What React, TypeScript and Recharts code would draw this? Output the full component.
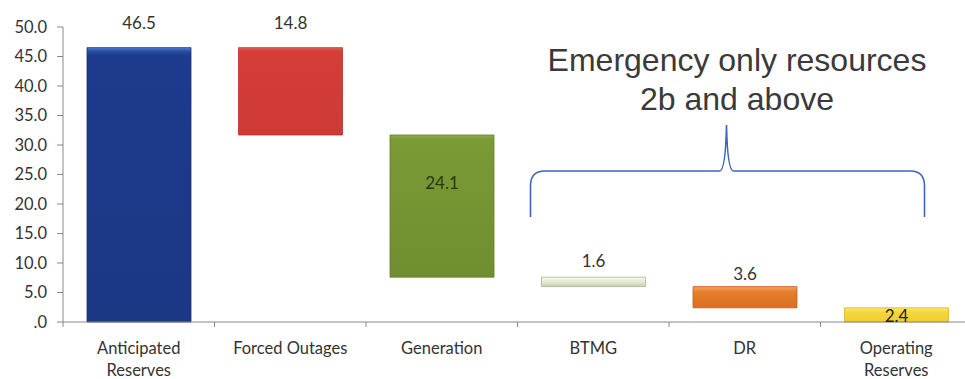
import { BarChart, Bar, XAxis, YAxis, Cell, LabelList } from "recharts"

const categories = ["Anticipated Reserves", "Forced Outages", "Generation", "BTMG", "DR", "Operating Reserves"]
const values = [46.5, 14.8, 24.1, 1.6, 3.6, 2.4]
const bases = [0, 31.7, 7.6, 6.0, 2.4, 0]
const yTicks = [0, 5, 10, 15, 20, 25, 30, 35, 40, 45, 50]

const fills = ["url(#gBlue)", "url(#gRed)", "url(#gGreen)", "url(#gPale)", "url(#gOrange)", "url(#gYellow)"]
const strokes = ["#1a2f70", "#b8302c", "#5f7d28", "#a9b39a", "#c0601e", "#d8b428"]
// label offset from bar top (center of text), tuned per bar
const labelDy = [-25, -25, 48, -16, -13, 8]
const labelColors = ["#333", "#333", "#2a3810", "#333", "#333", "#222"]

const data = categories.map((name, i) => ({ name, base: bases[i], value: values[i] }))

const W = 975
const H = 379
const M = { top: 27, right: 3, bottom: 0, left: 8 }
const plotLeft = M.left + 55
const catW = (W - M.right - plotLeft) / categories.length

const XTick = (props: any) => {
  const { x, y, payload, index } = props
  const words = String(payload.value).split(" ")
  const lines = words.length > 1 && payload.value !== "Forced Outages" ? words : [payload.value]
  return (
    <g>
      <line x1={x - catW / 2} x2={x - catW / 2} y1={y - 8} y2={y - 3} stroke="#888" />
      {index === categories.length - 1 && (
        <line x1={x + catW / 2} x2={x + catW / 2} y1={y - 8} y2={y - 3} stroke="#888" />
      )}
      <text x={x} y={y + 24} textAnchor="middle" fontSize={16.5} fill="#333" fontFamily="Lato">
        {lines.map((l: string, k: number) => (
          <tspan key={k} x={x} dy={k === 0 ? 0 : 22}>{l}</tspan>
        ))}
      </text>
    </g>
  )
}

const ValueLabel = (props: any) => {
  const { x, y, width, index } = props
  return (
    <text x={x + width / 2} y={y + labelDy[index]} dy="0.35em" textAnchor="middle" fontSize={17}
      fill={labelColors[index]} fontFamily="Lato">
      {values[index].toFixed(1)}
    </text>
  )
}

export default function App() {
  const braceL = plotLeft + catW * 3 + 13
  const braceR = plotLeft + catW * 5 + 104
  const braceMid = (braceL + braceR) / 2 - 1
  const yb = 171
  return (
    <div style={{ position: "absolute", left: 0, top: 0, width: 965, height: H, overflow: "hidden", background: "#fff" }}>
      <BarChart width={W} height={H} data={data} margin={M} barSize={104}>
        <defs>
          <linearGradient id="gBlue" x1="0" y1="0" x2="0" y2="1">
            <stop offset="0" stopColor="#4f86d6" />
            <stop offset="0.012" stopColor="#2a4fa6" />
            <stop offset="0.03" stopColor="#1e3a8c" />
            <stop offset="1" stopColor="#1c3784" />
          </linearGradient>
          <linearGradient id="gRed" x1="0" y1="0" x2="0" y2="1">
            <stop offset="0" stopColor="#e0605a" />
            <stop offset="0.04" stopColor="#d53d37" />
            <stop offset="1" stopColor="#cf3a34" />
          </linearGradient>
          <linearGradient id="gGreen" x1="0" y1="0" x2="0" y2="1">
            <stop offset="0" stopColor="#8fae4a" />
            <stop offset="0.03" stopColor="#7a9a36" />
            <stop offset="1" stopColor="#6f8e30" />
          </linearGradient>
          <linearGradient id="gPale" x1="0" y1="0" x2="0" y2="1">
            <stop offset="0" stopColor="#f4f8ea" />
            <stop offset="0.6" stopColor="#dfe8c8" />
            <stop offset="1" stopColor="#c4ceb0" />
          </linearGradient>
          <linearGradient id="gOrange" x1="0" y1="0" x2="0" y2="1">
            <stop offset="0" stopColor="#f3a25a" />
            <stop offset="0.25" stopColor="#e57f2c" />
            <stop offset="1" stopColor="#d86e22" />
          </linearGradient>
          <linearGradient id="gYellow" x1="0" y1="0" x2="0" y2="1">
            <stop offset="0" stopColor="#fbe57a" />
            <stop offset="0.3" stopColor="#f6d63e" />
            <stop offset="1" stopColor="#efcb30" />
          </linearGradient>
        </defs>
        <XAxis dataKey="name" axisLine={{ stroke: "#888" }} tickLine={false} interval={0} tick={<XTick />} height={57} />
        <YAxis domain={[0, 50]} ticks={yTicks} width={55} axisLine={{ stroke: "#888" }} tickLine={{ stroke: "#888" }}
          tickSize={6} tickMargin={10} interval={0}
          tick={{ fill: "#333", fontSize: 16.5, fontFamily: "Lato" }}
          tickFormatter={(v: number) => (v === 0 ? ".0" : v.toFixed(1))} />
        <Bar dataKey="base" stackId="w" fill="transparent" isAnimationActive={false} />
        <Bar dataKey="value" stackId="w" isAnimationActive={false}>
          {data.map((_, i) => (
            <Cell key={i} fill={fills[i]} stroke={strokes[i]} strokeWidth={0.8} />
          ))}
          <LabelList dataKey="value" content={<ValueLabel />} />
        </Bar>
      </BarChart>
      <svg width={965} height={H} style={{ position: "absolute", left: 0, top: 0, pointerEvents: "none" }}>
        <text x={737} y={71} textAnchor="middle" fontSize={32} fill="#3a3a3a" fontFamily="Liberation Sans">
          Emergency only resources
        </text>
        <text x={737} y={110} textAnchor="middle" fontSize={32} fill="#3a3a3a" fontFamily="Liberation Sans">
          2b and above
        </text>
        <path
          d={`M ${braceL} 217 L ${braceL} 186 Q ${braceL} ${yb} ${braceL + 14} ${yb} L ${braceMid - 7} ${yb} Q ${braceMid - 1} ${yb} ${braceMid} 125 Q ${braceMid + 1} ${yb} ${braceMid + 7} ${yb} L ${braceR - 14} ${yb} Q ${braceR} ${yb} ${braceR} 186 L ${braceR} 217`}
          fill="none" stroke="#4064b8" strokeWidth={1.6} />
      </svg>
    </div>
  )
}
